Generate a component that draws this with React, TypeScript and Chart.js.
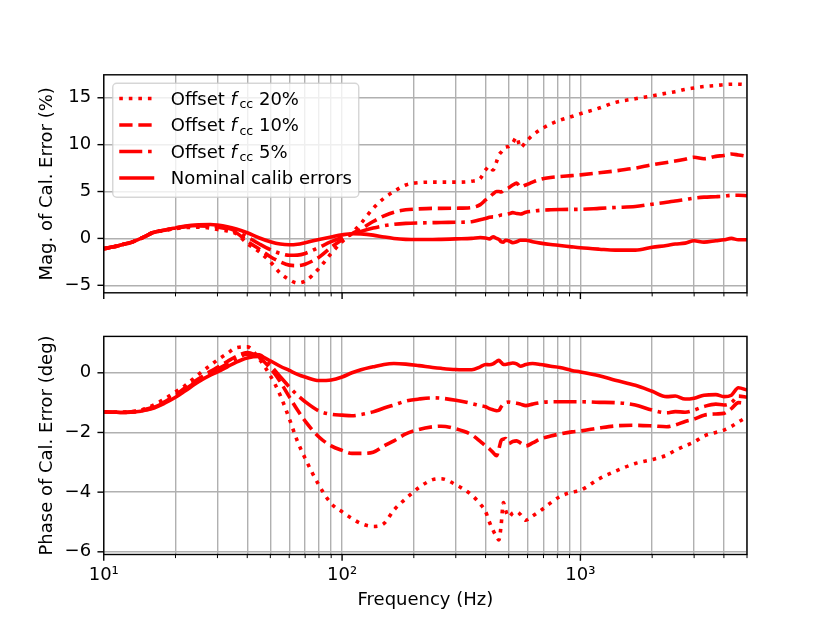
import { useEffect, useRef } from "react";
import { Chart, registerables } from "chart.js";

Chart.register(...registerables);

// frequency (Hz), shared by both panels
const freqs = [
  10, 11, 12, 13, 14, 15, 16, 18, 20, 22,
  25, 28, 30, 33, 36, 40, 45, 50, 55, 60,
  65, 70, 80, 90, 100, 110, 120, 135, 150, 165,
  185, 210, 240, 260, 300, 350, 380, 400, 415, 430,
  445, 455, 465, 475, 485, 500, 520, 540, 560, 590,
  630, 680, 750, 820, 920, 1000, 1200, 1400, 1700, 2000,
  2300, 2500, 2750, 3000, 3300, 3700, 4000, 4300, 4600, 5000,
];

// magnitude of calibration error (%)
const magOffset20 = [
  -1.1, -0.9, -0.65, -0.43, -0.1, 0.25, 0.58, 0.85, 1.05, 1.15,
  1.2, 1.1, 0.95, 0.8, 0.5, -0.55, -1.45, -2.5, -3.7, -4.4,
  -4.75, -4.55, -3.2, -1.6, -0.35, 0.6, 1.6, 3.2, 4.3, 5.0,
  5.7, 5.95, 6.0, 6.0, 6.0, 6.1, 6.4, 7.3, 7.7, 7.3,
  8.2, 8.9, 9.2, 9.5, 9.75, 9.8, 10.2, 10.8, 9.7, 10.3,
  11.0, 11.6, 12.2, 12.6, 13.0, 13.3, 13.9, 14.5, 14.9, 15.2,
  15.5, 15.65, 15.9, 16.05, 16.2, 16.3, 16.4, 16.45, 16.45, 16.4,
];
const magOffset10 = [
  -1.1, -0.9, -0.65, -0.43, -0.1, 0.25, 0.6, 0.87, 1.08, 1.25,
  1.33, 1.3, 1.2, 1.0, 0.6, -0.3, -1.15, -1.95, -2.5, -2.85,
  -2.9, -2.75, -2.0, -0.95, -0.15, 0.5, 1.0, 1.8, 2.4, 2.8,
  3.05, 3.15, 3.2, 3.2, 3.22, 3.3, 3.6, 4.1, 4.4, 4.75,
  5.0, 5.0, 4.95, 5.1, 5.25, 5.4, 5.7, 5.9, 5.5, 5.7,
  6.0, 6.3, 6.5, 6.6, 6.7, 6.78, 7.0, 7.2, 7.5, 7.85,
  8.1, 8.25, 8.45, 8.65, 8.5, 8.75, 8.85, 9.0, 8.9, 8.75,
];
const magOffset5 = [
  -1.1, -0.9, -0.65, -0.43, -0.1, 0.25, 0.6, 0.88, 1.1, 1.28,
  1.38, 1.38, 1.3, 1.1, 0.75, 0.15, -0.6, -1.2, -1.6, -1.8,
  -1.78, -1.6, -0.95, -0.35, 0.1, 0.45, 0.75, 1.1, 1.35, 1.5,
  1.6, 1.65, 1.68, 1.7, 1.72, 1.78, 2.0, 2.12, 2.25, 2.3,
  2.3, 2.4, 2.5, 2.5, 2.55, 2.62, 2.75, 2.65, 2.6, 2.8,
  2.9, 3.0, 3.05, 3.08, 3.1, 3.1, 3.2, 3.3, 3.4, 3.65,
  3.85, 4.0, 4.15, 4.3, 4.4, 4.45, 4.5, 4.6, 4.6, 4.55,
];
const magNominal = [
  -1.1, -0.9, -0.65, -0.43, -0.1, 0.25, 0.6, 0.89, 1.12, 1.32,
  1.45, 1.48, 1.42, 1.25, 1.0, 0.6, 0.05, -0.35, -0.6, -0.68,
  -0.62, -0.45, -0.12, 0.15, 0.38, 0.5, 0.48, 0.35, 0.15, 0.0,
  -0.1, -0.12, -0.12, -0.1, -0.05, 0.0, 0.1, 0.05, -0.05, 0.18,
  0.0, -0.1, -0.35, -0.4, -0.2, -0.25, -0.45, -0.35, -0.2, -0.2,
  -0.35, -0.5, -0.65, -0.75, -0.9, -1.0, -1.15, -1.25, -1.25, -0.95,
  -0.75, -0.6, -0.5, -0.25, -0.4, -0.25, -0.15, 0.0, -0.15, -0.15,
];

// phase of calibration error (deg)
const phOffset20 = [
  -1.31, -1.32, -1.32, -1.3, -1.27, -1.2, -1.1, -0.88, -0.64, -0.42,
  -0.05, 0.25, 0.43, 0.65, 0.84, 0.87, 0.45, -0.1, -0.75, -1.53,
  -2.3, -2.87, -3.77, -4.38, -4.66, -4.88, -5.05, -5.15, -5.05, -4.6,
  -4.22, -3.85, -3.58, -3.55, -3.75, -4.1, -4.4, -4.65, -5.0, -5.28,
  -5.5, -5.6, -5.1, -4.35, -4.6, -4.83, -4.7, -4.66, -4.75, -4.94,
  -4.8, -4.62, -4.36, -4.15, -4.0, -3.94, -3.55, -3.3, -3.04, -2.91,
  -2.76, -2.6, -2.45, -2.32, -2.12, -2.0, -1.92, -1.8, -1.65, -1.48,
];
const phOffset10 = [
  -1.31, -1.32, -1.32, -1.31, -1.28, -1.22, -1.15, -0.97, -0.74, -0.5,
  -0.2, 0.05, 0.18, 0.38, 0.55, 0.68, 0.5, 0.15, -0.3, -0.8,
  -1.25, -1.62, -2.15, -2.45, -2.6, -2.7, -2.7, -2.66, -2.45, -2.28,
  -2.05, -1.9, -1.81, -1.79, -1.88, -2.08, -2.3, -2.45, -2.55, -2.67,
  -2.78, -2.55, -2.27, -2.22, -2.2, -2.37, -2.3, -2.28, -2.35, -2.45,
  -2.35, -2.22, -2.12, -2.05, -1.98, -1.95, -1.85, -1.78, -1.76, -1.78,
  -1.81, -1.75, -1.63, -1.55, -1.42, -1.38, -1.36, -1.2, -1.0, -1.03,
];
const phOffset5 = [
  -1.31, -1.32, -1.33, -1.32, -1.29, -1.24, -1.18, -1.0, -0.78, -0.55,
  -0.25, 0.0, 0.12, 0.3, 0.48, 0.62, 0.6, 0.25, -0.13, -0.47,
  -0.75, -0.97, -1.28, -1.39, -1.42, -1.44, -1.4, -1.31, -1.18, -1.08,
  -0.95, -0.88, -0.84, -0.85, -0.92, -1.03, -1.1, -1.14, -1.2, -1.24,
  -1.27, -1.26, -1.14, -1.05, -1.0, -0.98, -1.0, -1.02, -1.05, -1.1,
  -1.05, -1.0, -0.97, -0.97, -0.97, -0.97, -0.99, -1.0, -1.08, -1.25,
  -1.34, -1.3, -1.32, -1.25, -1.13, -1.05, -1.08, -1.0, -0.78, -0.82,
];
const phNominal = [
  -1.31, -1.32, -1.33, -1.32, -1.3, -1.25, -1.2, -1.02, -0.82, -0.6,
  -0.3, -0.08, 0.03, 0.2, 0.36, 0.5, 0.55, 0.4, 0.22, 0.08,
  -0.05, -0.14, -0.26, -0.24, -0.14, 0.0, 0.1, 0.2, 0.28, 0.31,
  0.29, 0.24, 0.18, 0.15, 0.11, 0.1, 0.2, 0.28, 0.27, 0.3,
  0.38, 0.42, 0.35, 0.28, 0.28, 0.3, 0.33, 0.3, 0.22, 0.28,
  0.31, 0.28, 0.22, 0.18, 0.08, 0.03, -0.1, -0.25, -0.42, -0.62,
  -0.8, -0.78, -0.88, -0.85, -0.75, -0.73, -0.8, -0.75, -0.5, -0.58,
];

// ticks
const xTicks = [
  10, 20, 30, 40, 50, 60, 70, 80, 90,
  100, 200, 300, 400, 500, 600, 700, 800, 900,
  1000, 2000, 3000, 4000, 5000,
];
const xTickLabels: Record<number, string> = { 10: "10\u00b9", 100: "10\u00b2", 1000: "10\u00b3" };
const magTicks = [-5, 0, 5, 10, 15];
const phTicks = [-6, -4, -2, 0];

const legendPct = ["20%", "10%", "5%"];
const nominalLabel = "Nominal calib errors";

const RED = "#ff0000";
const GRID = "#b0b0b0";
const FAMILY = '"DejaVu Sans"';
const FS = 18;
const LW = 3.6;
const DOTTED = [3.6, 5.95];
const DASHED = [13.3, 5.8];
const DASHDOT = [23, 5.8, 3.6, 5.8];

Chart.defaults.font.family = FAMILY;
Chart.defaults.font.size = FS;
Chart.defaults.color = "#000";

const minus = (v: number) => (v < 0 ? "\u2212" + Math.abs(v) : String(v));

function series(values: number[], dash: number[]) {
  return {
    data: freqs.map((f, i) => ({ x: f, y: values[i] })),
    borderColor: RED,
    borderWidth: LW,
    borderDash: dash,
    borderJoinStyle: "round" as const,
    pointRadius: 0,
    fill: false,
    cubicInterpolationMode: "monotone" as const,
  };
}

// spines and outward tick marks, drawn the matplotlib way
const axesPlugin = {
  id: "mplAxes",
  afterDraw(chart: any) {
    const { ctx, chartArea: a } = chart;
    const xs = chart.scales.x;
    const ys = chart.scales.y;
    ctx.save();
    ctx.strokeStyle = "#000";
    ctx.setLineDash([]);
    xTicks.forEach((v) => {
      const px = xs.getPixelForValue(v);
      const major = v in xTickLabels;
      ctx.lineWidth = major ? 1.4 : 1.0;
      ctx.beginPath();
      ctx.moveTo(px, a.bottom);
      ctx.lineTo(px, a.bottom + (major ? 6.3 : 3.6));
      ctx.stroke();
    });
    ys.ticks.forEach((t: any) => {
      const py = ys.getPixelForValue(t.value);
      ctx.lineWidth = 1.4;
      ctx.beginPath();
      ctx.moveTo(a.left - 6.3, py);
      ctx.lineTo(a.left, py);
      ctx.stroke();
    });
    ctx.lineWidth = 1.4;
    ctx.strokeRect(a.left, a.top, a.right - a.left, a.bottom - a.top);
    ctx.restore();
  },
};

// legend with italic f and subscript cc
const legendPlugin = {
  id: "mplLegend",
  afterDraw(chart: any) {
    const { ctx, chartArea: a } = chart;
    const x0 = a.left + 9;
    const y0 = a.top + 8.5;
    ctx.save();
    ctx.beginPath();
    ctx.roundRect(x0, y0, 246, 114, 4);
    ctx.fillStyle = "rgba(255,255,255,0.8)";
    ctx.fill();
    ctx.strokeStyle = "rgba(204,204,204,0.8)";
    ctx.lineWidth = 1.4;
    ctx.stroke();
    chart.data.datasets.forEach((ds: any, i: number) => {
      const base = y0 + 21.5 + i * 26.5;
      ctx.strokeStyle = ds.borderColor;
      ctx.lineWidth = ds.borderWidth;
      ctx.setLineDash(ds.borderDash || []);
      ctx.beginPath();
      ctx.moveTo(x0 + 6.5, base - 6.3);
      ctx.lineTo(x0 + 41.5, base - 6.3);
      ctx.stroke();
      ctx.setLineDash([]);
      ctx.fillStyle = "#000";
      ctx.textBaseline = "alphabetic";
      let x = x0 + 58;
      const parts =
        i < legendPct.length
          ? [
              { t: "Offset ", f: `${FS}px ${FAMILY}`, dy: 0, gap: 0 },
              { t: "f", f: `italic ${FS}px ${FAMILY}`, dy: 0, gap: 2.5 },
              { t: "cc", f: `12.6px ${FAMILY}`, dy: 3.5, gap: 0 },
              { t: " " + legendPct[i], f: `${FS}px ${FAMILY}`, dy: 0, gap: 0 },
            ]
          : [{ t: nominalLabel, f: `${FS}px ${FAMILY}`, dy: 0, gap: 0 }];
      parts.forEach((p) => {
        ctx.font = p.f;
        ctx.fillText(p.t, x, base + p.dy);
        x += ctx.measureText(p.t).width + p.gap;
      });
    });
    ctx.restore();
  },
};

function xScale(showLabels: boolean, height: number) {
  return {
    type: "logarithmic" as const,
    min: 10,
    max: 5000,
    afterBuildTicks: (s: any) => {
      s.ticks = xTicks.map((v) => ({ value: v }));
    },
    afterFit: (s: any) => {
      s.height = height;
    },
    grid: { color: GRID, lineWidth: 1.4, drawTicks: false },
    border: { display: false },
    ticks: {
      display: showLabels,
      autoSkip: false,
      maxRotation: 0,
      padding: 10.5,
      callback: (v: any) => xTickLabels[Number(v)] || "",
    },
    title: { display: showLabels, text: "Frequency (Hz)", padding: 0 },
  };
}

function yScale(min: number, max: number, ticks: number[], label: string) {
  return {
    type: "linear" as const,
    min,
    max,
    afterBuildTicks: (s: any) => {
      s.ticks = ticks.map((v) => ({ value: v }));
    },
    afterFit: (s: any) => {
      s.width = 67.2;
    },
    grid: { color: GRID, lineWidth: 1.4, drawTicks: false },
    border: { display: false },
    ticks: { padding: 12.6, callback: (v: any) => minus(Number(v)) },
    title: { display: true, text: label, padding: 0 },
  };
}

export default function App() {
  const topRef = useRef<HTMLCanvasElement | null>(null);
  const botRef = useRef<HTMLCanvasElement | null>(null);

  useEffect(() => {
    if (!topRef.current || !botRef.current) return;
    const common = {
      animation: false as const,
      responsive: true,
      maintainAspectRatio: false,
      events: [],
    };
    const topChart = new Chart(topRef.current, {
      type: "line",
      data: {
        datasets: [
          series(magOffset20, DOTTED),
          series(magOffset10, DASHED),
          series(magOffset5, DASHDOT),
          series(magNominal, []),
        ],
      },
      options: {
        ...common,
        layout: { padding: { left: 36.55, right: 83, top: 74.8, bottom: 623 - 292.8 - 10 } },
        plugins: { legend: { display: false }, tooltip: { enabled: false } },
        scales: {
          x: xScale(false, 10),
          y: yScale(-5.8, 17.45, magTicks, "Mag. of Cal. Error (%)"),
        },
      } as any,
      plugins: [axesPlugin, legendPlugin],
    });
    const botChart = new Chart(botRef.current, {
      type: "line",
      data: {
        datasets: [
          series(phOffset20, DOTTED),
          series(phOffset10, DASHED),
          series(phOffset5, DASHDOT),
          series(phNominal, []),
        ],
      },
      options: {
        ...common,
        layout: { padding: { left: 36.55, right: 83, top: 336.4, bottom: 11.9 } },
        plugins: { legend: { display: false }, tooltip: { enabled: false } },
        scales: {
          x: xScale(true, 623 - 11.9 - 554.5),
          y: yScale(-6.09, 1.22, phTicks, "Phase of Cal. Error (deg)"),
        },
      } as any,
      plugins: [axesPlugin],
    });
    return () => {
      topChart.destroy();
      botChart.destroy();
    };
  }, []);

  const box = { position: "absolute" as const, left: 0, top: 0, width: 830, height: 623 };
  return (
    <div style={{ ...box, background: "#fff" }}>
      <div style={box}>
        <canvas ref={botRef} />
      </div>
      <div style={box}>
        <canvas ref={topRef} />
      </div>
    </div>
  );
}
